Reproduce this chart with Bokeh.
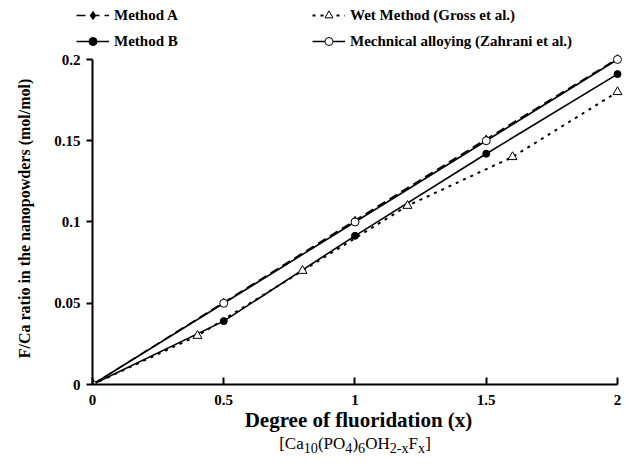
from bokeh.plotting import figure
from bokeh.layouts import column
from bokeh.models import Legend, LegendItem, Div, FixedTicker, Range1d
from bokeh.embed import file_html
from bokeh.resources import INLINE

# ---- data ----
x_a = [0, 0.5, 1, 1.5, 2]
y_a = [0, 0.0505, 0.101, 0.151, 0.2005]
x_b = [0, 0.5, 1, 1.5, 2]
y_b = [0, 0.039, 0.0915, 0.142, 0.191]
x_wet = [0, 0.4, 0.8, 1.2, 1.6, 2]
y_wet = [0, 0.03, 0.07, 0.11, 0.14, 0.18]
x_mech = [0, 0.5, 1, 1.5, 2]
y_mech = [0, 0.05, 0.1, 0.15, 0.2]
x_ticks = [0, 0.5, 1, 1.5, 2]
y_ticks = [0, 0.05, 0.1, 0.15, 0.2]
x_tick_labels = ["0", "0.5", "1", "1.5", "2"]
y_tick_labels = ["0", "0.05", "0.1", "0.15", "0.2"]
names = ["Method A", "Method B", "Wet Method (Gross et al.)",
         "Mechnical alloying (Zahrani et al.)"]
formula_html = "[Ca<sub>10</sub>(PO<sub>4</sub>)<sub>6</sub>OH<sub>2-x</sub>F<sub>x</sub>]"

FONT = "serif"

STYLES = {
    "a": dict(line=dict(line_color="black", line_width=1.6, line_dash="9 5"),
              mark=dict(marker="diamond", size=8, fill_color="black", line_color="black")),
    "b": dict(line=dict(line_color="black", line_width=1.6),
              mark=dict(marker="circle", size=7, fill_color="black", line_color="black")),
    "w": dict(line=dict(line_color="black", line_width=2, line_dash="3 5"),
              mark=dict(marker="triangle", size=9, fill_color="white", line_color="black")),
    "m": dict(line=dict(line_color="black", line_width=1.6),
              mark=dict(marker="circle", size=8, fill_color="white", line_color="black")),
}
SERIES = [("a", x_a, y_a), ("b", x_b, y_b), ("w", x_wet, y_wet), ("m", x_mech, y_mech)]


def draw(fig):
    out = []
    for key, xs, ys in SERIES:
        l = fig.line(xs, ys, **STYLES[key]["line"])
        s = fig.scatter(xs, ys, **STYLES[key]["mark"])
        out.append([l, s])
    return out


# ---------- main plot ----------
p = figure(width=625, height=382, output_backend="svg", toolbar_location=None,
           x_range=Range1d(0, 2.0267), y_range=Range1d(0, 0.2043),
           frame_width=532, frame_height=332)
p.min_border_left = 92
p.min_border_right = 1
p.min_border_top = 0
p.min_border_bottom = 50
p.outline_line_color = None
p.xgrid.visible = False
p.ygrid.visible = False
p.background_fill_color = "white"
p.border_fill_color = "white"
draw(p)

for ax in (p.xaxis[0], p.yaxis[0]):
    ax.axis_line_width = 2
    ax.major_tick_line_width = 2
    ax.minor_tick_line_color = None
    ax.major_label_text_font = FONT
    ax.major_label_text_font_style = "bold"
    ax.major_label_text_font_size = "15px"
    ax.major_label_text_color = "black"
    ax.axis_label_text_font = FONT
    ax.axis_label_text_font_style = "bold"
    ax.axis_label_text_color = "black"

p.xaxis.bounds = (0, 2)
p.yaxis.bounds = (0, 0.2)
p.xaxis.ticker = FixedTicker(ticks=x_ticks)
p.yaxis.ticker = FixedTicker(ticks=y_ticks)
p.xaxis.major_label_overrides = {t: s for t, s in zip(x_ticks, x_tick_labels)}
p.yaxis.major_label_overrides = {t: s for t, s in zip(y_ticks, y_tick_labels)}
p.xaxis.major_tick_in = 7
p.xaxis.major_tick_out = 0
p.yaxis.major_tick_in = 0
p.yaxis.major_tick_out = 6
p.xaxis.major_label_standoff = 10
p.yaxis.major_label_standoff = 6

p.xaxis.axis_label = "Degree of fluoridation (x)"
p.xaxis.axis_label_text_font_size = "21px"
p.xaxis.axis_label_standoff = 0
p.yaxis.axis_label = "F/Ca ratio in the nanopowders (mol/mol)"
p.yaxis.axis_label_text_font_size = "16px"
p.yaxis.axis_label_standoff = 18

# ---------- chemical formula under the x title ----------
formula = Div(text=formula_html, width=540, height=35, margin=(0, 0, 0, 85),
              styles={"text-align": "center", "font-family": "serif",
                      "font-size": "17px", "line-height": "20px", "color": "black",
                      "width": "540px"})

# ---------- legend strip above the plot ----------
top = figure(width=625, height=52, output_backend="svg", toolbar_location=None,
             x_range=Range1d(10, 11), y_range=Range1d(10, 11),
             frame_width=625, frame_height=52)
top.min_border = 0
top.axis.visible = False
top.grid.visible = False
top.outline_line_color = None
rends = draw(top)

leg = Legend(items=[LegendItem(label=names[0], renderers=rends[0]),
                    LegendItem(label=names[1], renderers=rends[1]),
                    LegendItem(label=names[2], renderers=rends[2]),
                    LegendItem(label=names[3], renderers=rends[3])],
             location=(76, 1), orientation="vertical", ncols=2)
leg.border_line_color = None
leg.background_fill_alpha = 0
leg.padding = 0
leg.margin = 0
leg.spacing = 6
leg.glyph_width = 33
leg.glyph_height = 20
leg.label_standoff = 5
leg.label_width = 192
leg.label_text_font = FONT
leg.label_text_font_style = "bold"
leg.label_text_font_size = "15px"
leg.label_text_color = "black"
top.add_layout(leg, "center")

layout = column(top, p, formula, spacing=0)
open("out.html", "w").write(file_html(layout, INLINE))
